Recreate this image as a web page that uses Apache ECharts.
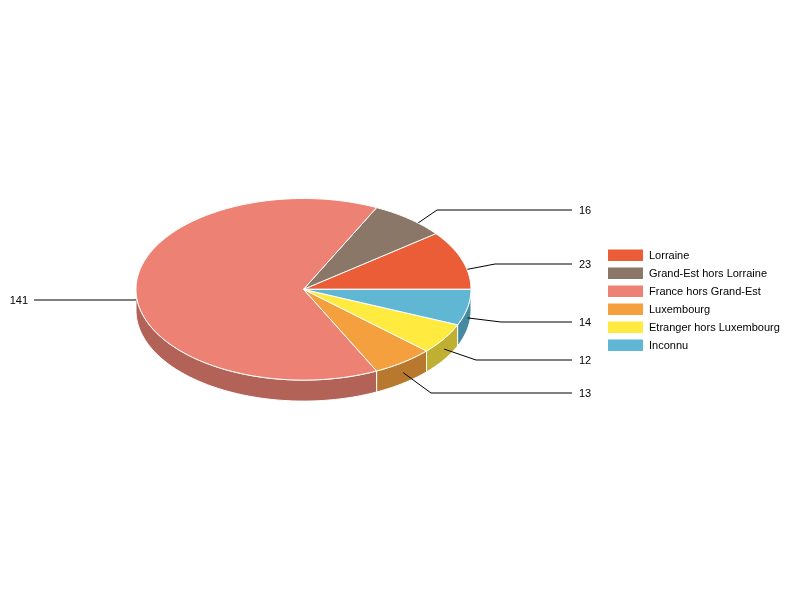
<!DOCTYPE html>
<html>
<head>
<meta charset="utf-8">
<style>html,body{margin:0;padding:0;background:#fff}#c{width:800px;height:600px}</style>
<script src="https://cdn.jsdelivr.net/npm/echarts@6/dist/echarts.min.js"></script>
</head>
<body>
<div id="c"></div>
<script>
const categories = ['Lorraine', 'Grand-Est hors Lorraine', 'France hors Grand-Est', 'Luxembourg', 'Etranger hors Luxembourg', 'Inconnu'];
const values = [23, 16, 141, 13, 12, 14];
const colors = ['#EA5D37', '#8A7767', '#ED8274', '#F5A03F', '#FFEB3F', '#5FB7D3'];
const wallColors = ['#B14729', '#68594D', '#B36258', '#B8792F', '#BFB032', '#47899F'];

// leader line layout: elbow x, label y
const elbowX = [495, 437, 135, 431, 476, 501];
const labelY = [264, 210, 300, 393, 360, 322];

const CX = 303.5, CY = 289.3, RX = 167.5, RY = 90.8, DEPTH = 21;
const total = values.reduce((a, b) => a + b, 0);
const RAD = Math.PI / 180;
const px = t => CX + RX * Math.cos(t * RAD);
const py = t => CY - RY * Math.sin(t * RAD);

function arc(from, to, dy) {
  const n = Math.max(2, Math.ceil(Math.abs(to - from) / 1.5));
  const pts = [];
  for (let i = 0; i <= n; i++) {
    const t = from + (to - from) * i / n;
    pts.push([px(t), py(t) + dy]);
  }
  return pts;
}

function renderSlice(idx) {
  return function (params, api) {
    const value = api.value(0);
    const before = values.slice(0, idx).reduce((a, b) => a + b, 0);
    const a0 = before / total * 360;
    const a1 = a0 + value / total * 360;
    const mid = (a0 + a1) / 2;
    const children = [];
    const w0 = Math.max(a0, 180), w1 = Math.min(a1, 360);
    if (w1 > w0) {
      const top = arc(w0, w1, 0), bot = arc(w1, w0, DEPTH);
      children.push({
        type: 'polygon', z2: 1,
        shape: { points: top.concat(bot) },
        style: { fill: wallColors[idx], stroke: '#fff', lineWidth: 1 }
      });
    }
    const ax = px(mid), ay = py(mid) + DEPTH / 2;
    const left = px(mid) < CX;
    const endX = left ? 34 : 572;
    children.push({
      type: 'polyline', z2: 2,
      shape: { points: [[ax, ay], [elbowX[idx], labelY[idx]], [endX, labelY[idx]]] },
      style: { stroke: '#000', lineWidth: 1, fill: null }
    });
    children.push({
      type: 'polygon', z2: 3,
      shape: { points: [[CX, CY]].concat(arc(a0, a1, 0)) },
      style: { fill: colors[idx], stroke: '#fff', lineWidth: 1, lineJoin: 'round' }
    });
    children.push({
      type: 'text', z2: 4,
      style: {
        text: String(value),
        x: left ? 28 : 579, y: labelY[idx] + 1,
        align: left ? 'right' : 'left', verticalAlign: 'middle',
        fill: '#000', font: '11px "Liberation Sans", Arial, sans-serif'
      }
    });
    return { type: 'group', children };
  };
}

const chart = echarts.init(document.getElementById('c'), null, { renderer: 'canvas' });
chart.setOption({
  backgroundColor: '#fff',
  animation: false,
  legend: {
    orient: 'vertical', left: 608, top: 247.2,
    itemWidth: 35, itemHeight: 11.4, itemGap: 2, icon: 'rect',
    padding: 0, selectedMode: false,
    formatter: name => '{t|' + name + '}',
    textStyle: {
      color: '#000', fontSize: 11, fontFamily: '"Liberation Sans", Arial, sans-serif',
      rich: { t: { color: '#000', fontSize: 11, lineHeight: 12, height: 14, fontFamily: '"Liberation Sans", Arial, sans-serif', padding: [2, 0, 0, 1] } }
    },
    data: categories
  },
  series: categories.map((name, i) => ({
    type: 'custom', name, coordinateSystem: 'none',
    silent: true,
    itemStyle: { color: colors[i] },
    renderItem: renderSlice(i),
    data: [[values[i]]]
  }))
});
</script>
</body>
</html>
